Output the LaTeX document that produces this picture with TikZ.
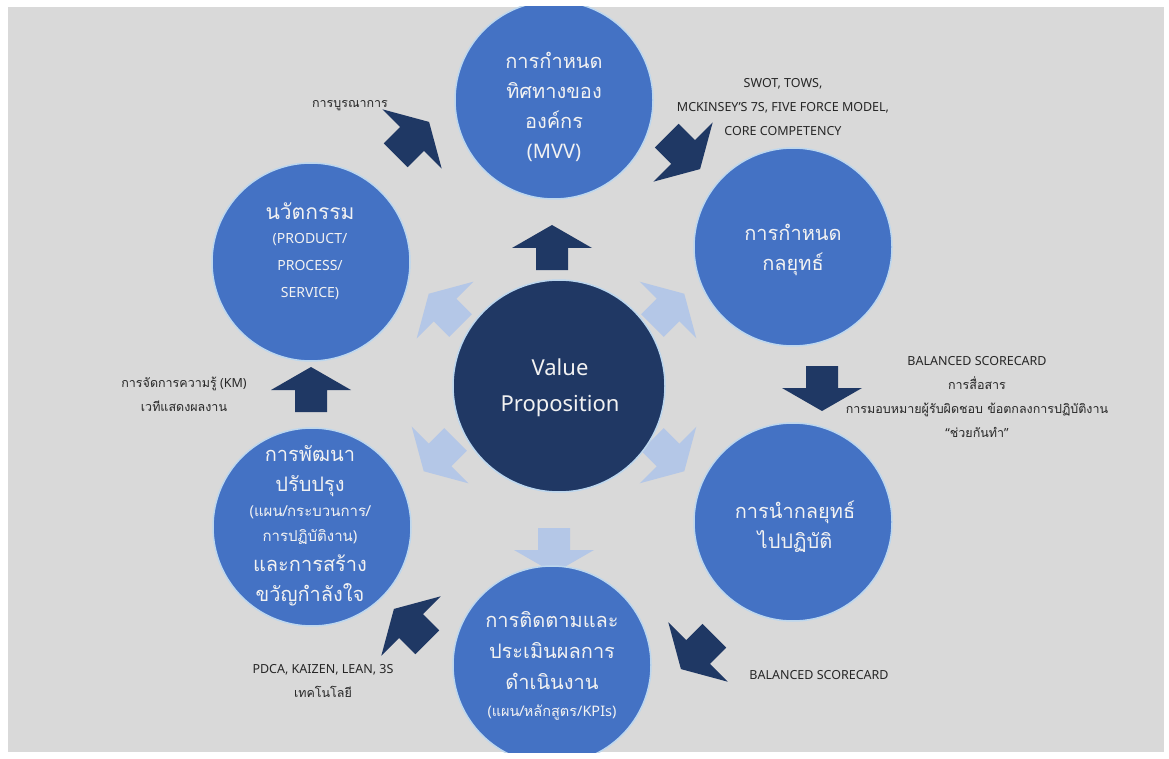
\documentclass[tikz,border=0pt]{standalone}
\usepackage{fontspec}
\setmainfont{Noto Sans}
\newfontfamily\thaifont[Script=Thai]{Loma}
\newcommand\thx[1]{{\thaifont #1}}
\newcommand\thl[1]{{\thaifont\fontsize{12.5}{24}\selectfont #1}}
\definecolor{bg}{HTML}{D9D9D9}
\definecolor{cblue}{HTML}{4472C4}
\definecolor{cnavy}{HTML}{203864}
\definecolor{cdark}{HTML}{1F3864}
\definecolor{clight}{HTML}{B4C7E7}
\definecolor{ctext}{HTML}{F2F2F2}
\definecolor{crim}{HTML}{BDD7EE}
\definecolor{clabel}{HTML}{262626}
\tikzset{
  outer/.style={circle, fill=cblue, draw=crim, line width=1.5pt, minimum size=198pt, inner sep=0pt},
  core/.style={circle, fill=cnavy, draw=crim, line width=1.5pt, minimum size=212pt, inner sep=0pt},
  ctxt/.style={text=ctext, align=center, font=\fontsize{20}{30}\selectfont, inner sep=0pt},
  lbl/.style={text=clabel, align=center, font=\fontsize{12.5}{24}\selectfont, inner sep=0pt},
  barrow/.pic={\fill[pic actions] (-22,-16) -- (0,-16) -- (0,-40) -- (23,0) -- (0,40) -- (0,16) -- (-22,16) -- cycle;}
}
\begin{document}
\begin{tikzpicture}[x=1pt,y=-1pt]
\useasboundingbox (0,0) rectangle (1169,759);
\fill[white] (0,0) rectangle (1169,759);
\fill[bg] (8,7) rectangle (1164,752);
\begin{scope}
\clip (8,7) rectangle (1164,752);
% light arrows from the centre
\pic[fill=clight, rotate=135] at (445,310) {barrow};
\pic[fill=clight, rotate=45] at (668,310) {barrow};
\pic[fill=clight, rotate=-135] at (440,455) {barrow};
\pic[fill=clight, rotate=-45] at (668,455) {barrow};
\pic[fill=clight, rotate=-90] at (554,550) {barrow};
\pic[fill=cdark, rotate=90] at (552,248) {barrow};
% dark arrows of the cycle
\pic[fill=cdark, rotate=45, scale=1.05] at (412,139) {barrow};
\pic[fill=cdark, rotate=-45, scale=1.05] at (683,152) {barrow};
\pic[fill=cdark, rotate=-90] at (822,388) {barrow};
\pic[fill=cdark, rotate=-135, scale=1.05] at (698,652) {barrow};
\pic[fill=cdark, rotate=135, scale=1.05] at (411,626) {barrow};
\pic[fill=cdark, rotate=90] at (311,390) {barrow};
% circles
\node[core] (vp) at (559,386) {};
\node[outer] (c1) at (554,100) {};
\node[outer] (c2) at (793,247) {};
\node[outer] (c3) at (793,522) {};
\node[outer] (c4) at (552,665) {};
\node[outer] (c5) at (312,527) {};
\node[outer] (c6) at (311,262) {};
\end{scope}
% circle texts
\node[text=ctext, align=center, font=\fontsize{22}{36}\selectfont] (tvp) at (560,388) {Value\\Proposition};
\node[ctxt] (t1) at (554,107) {\thx{การกำหนด}\\\thx{ทิศทางของ}\\\thx{องค์กร}\\(MVV)};
\node[ctxt] (t2) at (793,250) {\thx{การกำหนด}\\\thx{กลยุทธ์}};
\node[ctxt] (t3) at (795,527) {\thx{การนำกลยุทธ์}\\\thx{ไปปฏิบัติ}};
\node[ctxt, anchor=north, font=\fontsize{20}{31}\selectfont] (t4) at (552,611) {\thx{การติดตามและ}\\\thx{ประเมินผลการ}\\\thx{ดำเนินงาน}\\[-4pt]{\fontsize{14.5}{25}\selectfont(\thx{แผน/หลักสูตร}/KPIs)}};
\node[ctxt, anchor=north] (t5) at (310,445) {\thx{การพัฒนา}\\\thx{ปรับปรุง}\\[-5pt]{\fontsize{15}{24}\selectfont(\thx{แผน/กระบวนการ/}}\\[-5pt]{\fontsize{15}{24}\selectfont\thx{การปฏิบัติงาน})}\\\thx{และการสร้าง}\\\thx{ขวัญกำลังใจ}};
\node[ctxt, anchor=north, font=\fontsize{21}{30}\selectfont] (t6) at (310,203) {\thx{นวัตกรรม}\\[-6pt]{\fontsize{14}{24}\selectfont (PRODUCT/}\\[-3pt]{\fontsize{14}{24}\selectfont PROCESS/}\\[-3pt]{\fontsize{14}{24}\selectfont SERVICE)}};
% labels
\node[lbl] (l1) at (350,106) {\thl{การบูรณาการ}};
\node[lbl] (l2) at (783,107) {SWOT, TOWS,\\MCKINSEY’S 7S, FIVE FORCE MODEL,\\CORE COMPETENCY};
\node[lbl] (l3) at (977,397) {BALANCED SCORECARD\\\thl{การสื่อสาร}\\\thl{การมอบหมายผู้รับผิดชอบ ข้อตกลงการปฏิบัติงาน}\\“\thl{ช่วยกันทำ}”};
\node[lbl] (l4) at (819,675) {BALANCED SCORECARD};
\node[lbl] (l5) at (323,681) {PDCA, KAIZEN, LEAN, 3S\\\thl{เทคโนโลยี}};
\node[lbl] (l6) at (184,394) {\thl{การจัดการความรู้} (KM)\\\thl{เวทีแสดงผลงาน}};
\end{tikzpicture}
\end{document}
